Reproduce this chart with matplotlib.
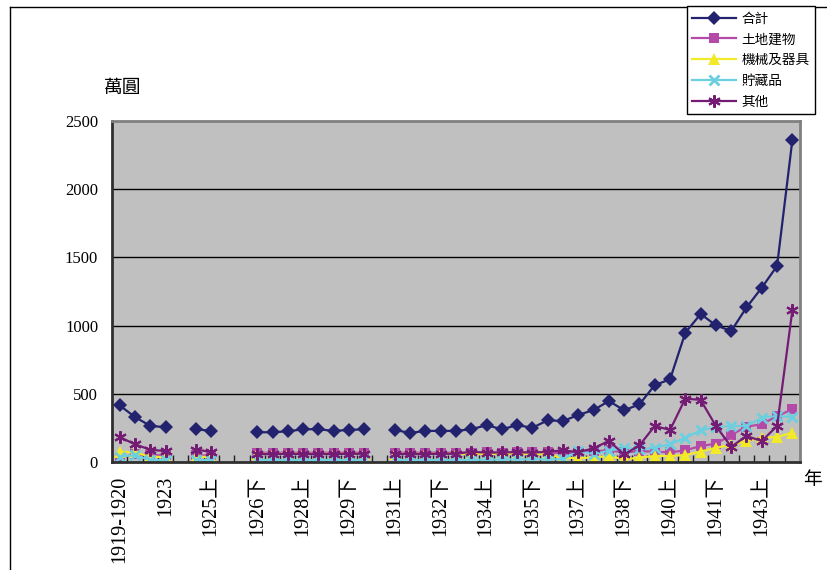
import numpy as np
import matplotlib.pyplot as plt
from matplotlib.lines import Line2D

nan = np.nan

# ── categories (1919-1920, 1921-1923 yearly, then half-years 上/下) ─────────
periods = ['1919-1920', '1921', '1922', '1923']
for yr in range(1924, 1944):
    periods += [f'{yr}上', f'{yr}下']
periods += ['1944上']

# ── series (萬圓) ──────────────────────────────────────────────────────────
total = [415, 330, 265, 255, nan, 240, 228, nan, nan, 218,
         218, 225, 240, 240, 228, 235, 240, nan, 235, 213,
         228, 228, 228, 240, 270, 240, 270, 251, 306, 300,
         345, 381, 447, 379, 423, 564, 606, 948, 1085, 1002,
         960, 1133, 1278, 1437, 2361]
land = [30, 55, 50, 50, nan, 50, 45, nan, nan, 68,
        68, 68, 68, 68, 68, 68, 68, nan, 68, 68,
        68, 68, 68, 68, 70, 68, 70, 70, 70, 65,
        70, 80, 85, 70, 80, 75, 70, 86, 117, 134,
        198, 260, 276, 337, 386]
machine = [75, 70, 40, 35, nan, 40, 35, nan, nan, 60,
           60, 62, 60, 60, 60, 60, 60, nan, 60, 60,
           60, 60, 60, 60, 60, 62, 60, 60, 55, 30,
           30, 32, 44, 20, 32, 44, 44, 51, 76, 105,
           125, 154, 178, 183, 215]
stock = [40, 50, 15, 15, nan, 15, 15, nan, nan, 15,
         15, 15, 15, 15, 15, 15, 15, nan, 15, 15,
         15, 15, 15, 15, 18, 18, 20, 20, 20, 20,
         80, 60, 81, 105, 93, 105, 130, 178, 232, 257,
         264, 264, 325, 337, 330]
other = [183, 130, 90, 80, nan, 90, 75, nan, nan, 58,
         58, 60, 58, 58, 58, 60, 60, nan, 58, 58,
         58, 60, 60, 75, 68, 70, 72, 68, 75, 85,
         72, 100, 155, 55, 122, 264, 235, 465, 455, 264,
         112, 190, 154, 264, 1114]

series = [
    ('合計',       total,   '#22226E', 'D', 7, 0.0),
    ('土地建物',   land,    '#B44AA8', 's', 7, 0.0),
    ('機械及器具', machine, '#F2EA28', '^', 8, 0.0),
    ('貯藏品',     stock,   '#6CCFE0', 'x', 7, 2.0),
    ('其他',       other,   '#741C74', (6, 2, 0), 9, 1.5),
]

CJK = ['Noto Sans CJK TC', 'DejaVu Sans']
SERIF = ['Liberation Serif', 'Noto Sans CJK TC']

fig = plt.figure(figsize=(8.28, 5.70), dpi=100)
ax = fig.add_axes([112/828, 1-462/570, (800-112)/828, (462-121)/570])
ax.set_facecolor('#C0C0C0')

x = np.arange(len(periods))
for name, vals, col, mk, ms, mew in series:
    ax.plot(x, vals, color=col, lw=1.6, marker=mk, ms=ms,
            mew=mew, mec=col, mfc=col, label=name)

ax.set_xlim(-0.5, len(periods)-0.5)
ax.set_ylim(0, 2500)
ax.set_yticks(np.arange(0, 2501, 500))
ax.set_yticklabels([str(v) for v in range(0, 2501, 500)],
                   family=SERIF, fontsize=12)
for yv in range(500, 2500, 500):
    ax.axhline(yv, color='black', lw=1, zorder=0.5)

lab_idx = list(range(0, len(periods), 3))
ax.set_xticks(lab_idx)
ax.set_xticklabels([periods[i] for i in lab_idx], rotation=90,
                   family=SERIF, fontsize=14.5)
ax.set_xticks(np.arange(0.5, len(periods)-1, 1.0), minor=True)
ax.tick_params(axis='x', which='major', length=0, pad=10)
ax.tick_params(axis='x', which='minor', direction='in', length=5,
               width=1, color='#202020')
ax.tick_params(axis='y', length=0, pad=10)

for s in ['top', 'right']:
    ax.spines[s].set_color('#808080')
    ax.spines[s].set_linewidth(2)
for s in ['left', 'bottom']:
    ax.spines[s].set_color('#303030')
    ax.spines[s].set_linewidth(2)

# unit labels
fig.text(104/828, 1-87/570, '萬圓', family=CJK, fontsize=13.5,
         va='center', ha='left')
fig.text(803/828, 1-480/570, '年', family=CJK, fontsize=13.5,
         va='center', ha='left')

# outer chart border (top and left visible)
fig.add_artist(Line2D([10/828, 1], [1-7/570, 1-7/570], color='black',
                      lw=1, transform=fig.transFigure))
fig.add_artist(Line2D([10/828, 10/828], [0, 1-7/570], color='black',
                      lw=1, transform=fig.transFigure))

leg = fig.legend(loc='upper left', bbox_to_anchor=(687/828, 1-6/570),
                 prop={'family': CJK, 'size': 9.8}, frameon=True,
                 fancybox=False, edgecolor='black', handlelength=3.2,
                 labelspacing=0.5, borderpad=0.4, handletextpad=0.4,
                 borderaxespad=0)
leg.get_frame().set_linewidth(1)
leg.get_frame().set_facecolor('white')
leg.get_frame().set_alpha(1)

plt.savefig('out.png', dpi=100)
plt.close()
